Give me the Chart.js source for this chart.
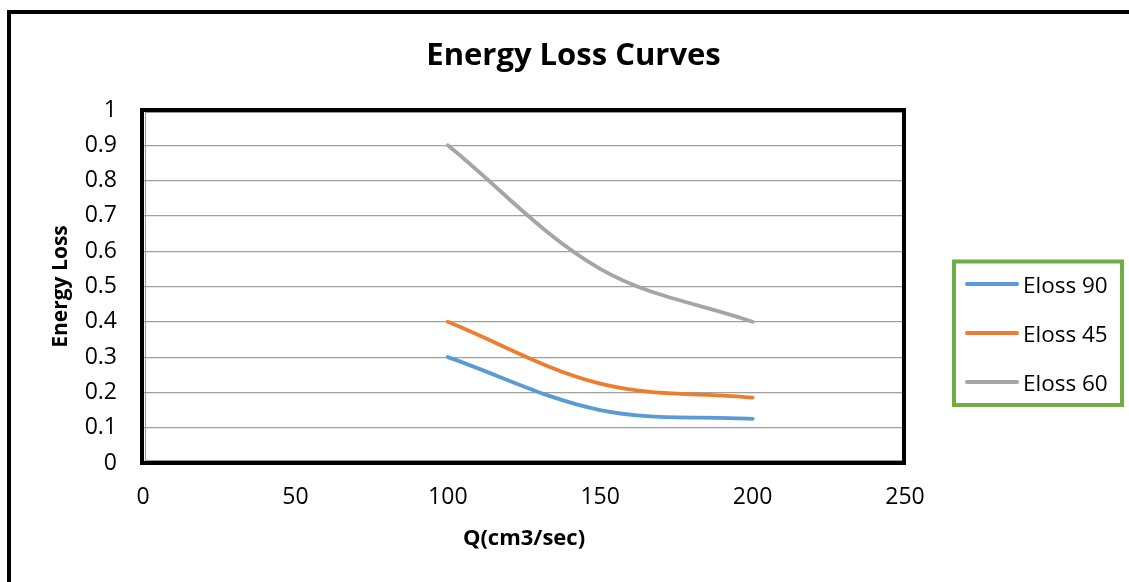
<!DOCTYPE html>
<html>
<head>
<meta charset="utf-8">
<script src="https://cdn.jsdelivr.net/npm/chart.js@4"></script>
<style>
html,body{margin:0;padding:0;background:#fff;}
#wrap{position:relative;width:1129px;height:582px;}
canvas{display:block;}
</style>
</head>
<body>
<div id="wrap"><canvas id="c" width="1129" height="582"></canvas></div>
<script>
const chartTitle = "Energy Loss Curves";
const xTitle = "Q(cm3/sec)";
const yTitle = "Energy Loss";
const qValues = [100, 150, 200];
const eloss90 = [0.30, 0.15, 0.125];
const eloss45 = [0.40, 0.225, 0.185];
const eloss60 = [0.90, 0.55, 0.40];
const seriesNames = ["Eloss 90", "Eloss 45", "Eloss 60"];
const seriesColors = ["#5B9BD5", "#ED7D31", "#A5A5A5"];
const xTicks = [0, 50, 100, 150, 200, 250];
const yTicks = [0, 0.1, 0.2, 0.3, 0.4, 0.5, 0.6, 0.7, 0.8, 0.9, 1];

const FONT = "'Open Sans', 'DejaVu Sans', sans-serif";
const seriesValues = [eloss90, eloss45, eloss60];

const datasets = seriesValues.map((vals, i) => ({
  label: seriesNames[i],
  data: qValues.map((q, j) => ({x: q, y: vals[j]})),
  borderColor: seriesColors[i],
  backgroundColor: seriesColors[i],
  borderWidth: 3.8,
  pointRadius: 0,
  tension: 0.35,
  showLine: true,
  fill: false,
  borderCapStyle: 'round'
}));

const decor = {
  id: 'decor',
  afterDraw(chart) {
    const ctx = chart.ctx;
    const a = chart.chartArea;
    ctx.save();
    // outer frame
    ctx.strokeStyle = '#000';
    ctx.lineWidth = 4;
    ctx.strokeRect(9, 12, 2000, 2000);
    // plot border
    ctx.strokeStyle = '#9a9a9a';
    ctx.lineWidth = 1;
    ctx.strokeRect(a.left + 2.5, a.top + 2.5, a.right - a.left - 5, a.bottom - a.top - 5);
    ctx.strokeStyle = '#000';
    ctx.lineWidth = 4;
    ctx.strokeRect(a.left - 1, a.top, a.right - a.left, a.bottom - a.top);
    // title
    ctx.fillStyle = '#000';
    ctx.font = "bold 31px " + FONT;
    ctx.textAlign = 'center';
    ctx.textBaseline = 'alphabetic';
    ctx.fillText(chartTitle, 573.5, 65);
    // legend
    ctx.strokeStyle = '#70AD47';
    ctx.lineWidth = 4;
    ctx.strokeRect(954, 261.5, 168, 143.5);
    const ys = [284, 333, 382];
    ctx.font = "22.5px " + FONT;
    ctx.textAlign = 'left';
    chart.data.datasets.forEach((ds, i) => {
      ctx.strokeStyle = ds.borderColor;
      ctx.lineWidth = 4;
      ctx.lineCap = 'round';
      ctx.beginPath();
      ctx.moveTo(967, ys[i]);
      ctx.lineTo(1017, ys[i]);
      ctx.stroke();
      ctx.fillStyle = '#000';
      ctx.fillText(ds.label, 1023, ys[i] + 8.5);
    });
    ctx.restore();
  }
};

new Chart(document.getElementById('c'), {
  type: 'scatter',
  data: {datasets},
  options: {
    responsive: false,
    animation: false,
    layout: {padding: {left: 0, top: 110, right: 224, bottom: 0}},
    plugins: {legend: {display: false}, title: {display: false}, tooltip: {enabled: false}},
    scales: {
      x: {
        type: 'linear',
        min: 0, max: 250,
        afterFit(s) { s.height = 119; },
        afterBuildTicks(s) { s.ticks = xTicks.map(v => ({value: v})); },
        grid: {display: false, drawTicks: false},
        border: {display: false},
        ticks: {color: '#000', padding: 21, font: {family: FONT, size: 23}, maxRotation: 0},
        title: {display: true, text: xTitle, color: '#000', font: {family: FONT, size: 22, weight: 'bold'}, padding: {top: 0, bottom: 30}}
      },
      y: {
        type: 'linear',
        min: 0, max: 1,
        afterFit(s) { s.width = 143; },
        afterBuildTicks(s) { s.ticks = yTicks.map(v => ({value: v})); },
        grid: {color: '#a0a0a0', lineWidth: 1.2, drawTicks: false},
        border: {display: false},
        ticks: {color: '#000', padding: 26, font: {family: FONT, size: 23}, callback: v => String(+v.toFixed(1))},
        title: {display: true, text: yTitle, color: '#000', font: {family: FONT, size: 21, weight: 'bold'}, padding: {top: 48, bottom: 0}}
      }
    }
  },
  plugins: [decor]
});
</script>
</body>
</html>
